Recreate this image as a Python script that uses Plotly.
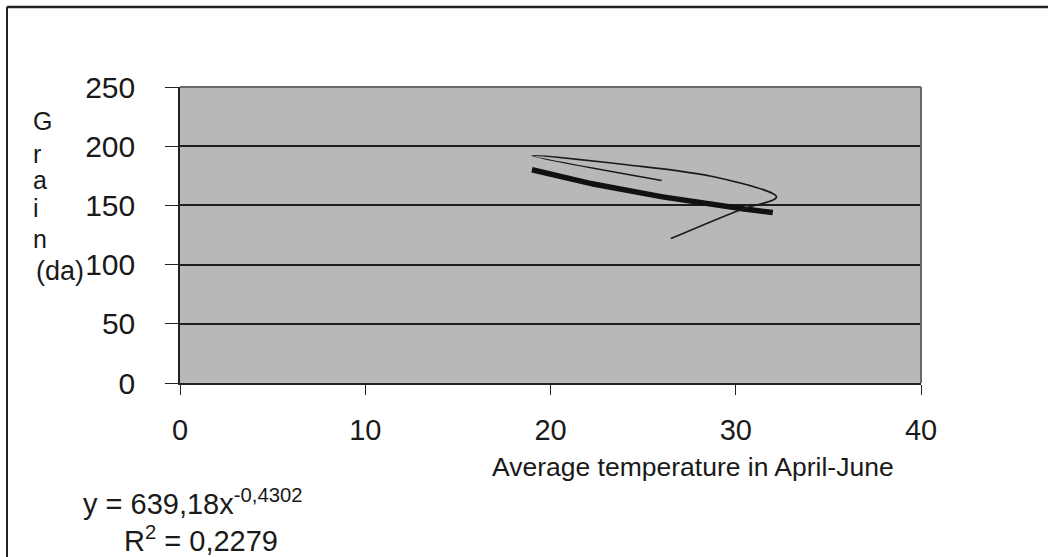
import numpy as np
import plotly.graph_objects as go

# Observed grain yield against the April-June mean temperature, in sequence
temperature = [26.0, 19.0, 24.0, 29.0, 32.2, 30.2, 26.5]
grain = [171, 192, 184.5, 173.5, 157, 146, 122]

# Power trendline y = a * x^b fitted to the observations
trend_a = 639.18
trend_b = -0.4302
r_squared = 0.2279

x_ticks = [0, 10, 20, 30, 40]
y_ticks = [0, 50, 100, 150, 200, 250]

FONT = "Liberation Sans, Arial, sans-serif"
INK = "#1a1a1a"

tx = np.linspace(19.0, 32.0, 60)
ty = trend_a * tx ** trend_b

fig = go.Figure()
fig.add_trace(go.Scatter(
    x=tx, y=ty, mode="lines",
    line=dict(color="#111111", width=5.5),
    hoverinfo="skip", showlegend=False,
))
fig.add_trace(go.Scatter(
    x=temperature, y=grain, mode="lines",
    line=dict(color="#1a1a1a", width=1.6, shape="spline", smoothing=1.0),
    showlegend=False,
))

L, R, T, B = 180, 127, 87, 174
W, H = 1048, 557
pw, ph = W - L - R, H - T - B


def px_x(p):
    return (p - L) / pw


def px_y(p):
    return (H - B - p) / ph


fig.update_layout(
    width=W, height=H, autosize=False,
    margin=dict(l=L, r=R, t=T, b=B),
    paper_bgcolor="white",
    plot_bgcolor="#b8b8b8",
    font=dict(family=FONT, color=INK),
    xaxis=dict(
        range=[0, 40], tickvals=x_ticks, ticks="outside", ticklen=10,
        tickcolor="#222", showgrid=False, zeroline=False,
        showline=True, linecolor="#222", linewidth=1.5,
        tickfont=dict(size=29, family=FONT, color=INK),
        ticklabelstandoff=10,
    ),
    yaxis=dict(
        range=[0, 250], tickvals=y_ticks, ticks="outside", ticklen=13,
        tickcolor="#222", showgrid=True, gridcolor="#1e1e1e", gridwidth=1.5,
        zeroline=False, showline=True, linecolor="#222", linewidth=1.5,
        tickfont=dict(size=30, family=FONT, color=INK),
        ticklabelstandoff=24,
    ),
    shapes=[
        # plot area frame on top and right
        dict(type="line", xref="paper", yref="paper", x0=0, x1=1, y0=1, y1=1,
             line=dict(color="#6a6a6a", width=2)),
        dict(type="line", xref="paper", yref="paper", x0=1, x1=1, y0=0, y1=1,
             line=dict(color="#6a6a6a", width=2)),
        # chart border (left and top edges)
        dict(type="line", xref="paper", yref="paper",
             x0=px_x(7), x1=px_x(7), y0=px_y(7), y1=px_y(H + 5),
             line=dict(color="#222", width=2)),
        dict(type="line", xref="paper", yref="paper",
             x0=px_x(7), x1=px_x(W + 5), y0=px_y(7), y1=px_y(7),
             line=dict(color="#222", width=2.5)),
    ],
)

annotations = []
# vertical axis title, stacked letters
for ch, yp in zip(["G", "r", "a", "i", "n"], [121, 154, 180, 208, 239]):
    annotations.append(dict(text=ch, x=px_x(31), y=px_y(yp), xref="paper", yref="paper",
                            xanchor="left", yanchor="middle", showarrow=False,
                            font=dict(size=25, family=FONT, color=INK)))
annotations.append(dict(text="(da)", x=px_x(34), y=px_y(271), xref="paper", yref="paper",
                        xanchor="left", yanchor="middle", showarrow=False,
                        font=dict(size=27, family=FONT, color=INK)))
annotations.append(dict(text="Average temperature in April-June",
                        x=px_x(693), y=px_y(467), xref="paper", yref="paper",
                        xanchor="center", yanchor="middle", showarrow=False,
                        font=dict(size=26.5, family=FONT, color=INK)))
annotations.append(dict(
    text="y = " + f"{trend_a:.2f}".replace(".", ",") + "x<sup>" +
         f"{trend_b:.4f}".replace(".", ",") + "</sup>",
    x=px_x(81), y=px_y(502), xref="paper", yref="paper",
    xanchor="left", yanchor="middle", showarrow=False,
    font=dict(size=29, family=FONT, color=INK)))
annotations.append(dict(
    text="R<sup>2</sup> = " + f"{r_squared:.4f}".replace(".", ","),
    x=px_x(122), y=px_y(539), xref="paper", yref="paper",
    xanchor="left", yanchor="middle", showarrow=False,
    font=dict(size=29, family=FONT, color=INK)))
fig.update_layout(annotations=annotations)

fig.write_html("out.html")
